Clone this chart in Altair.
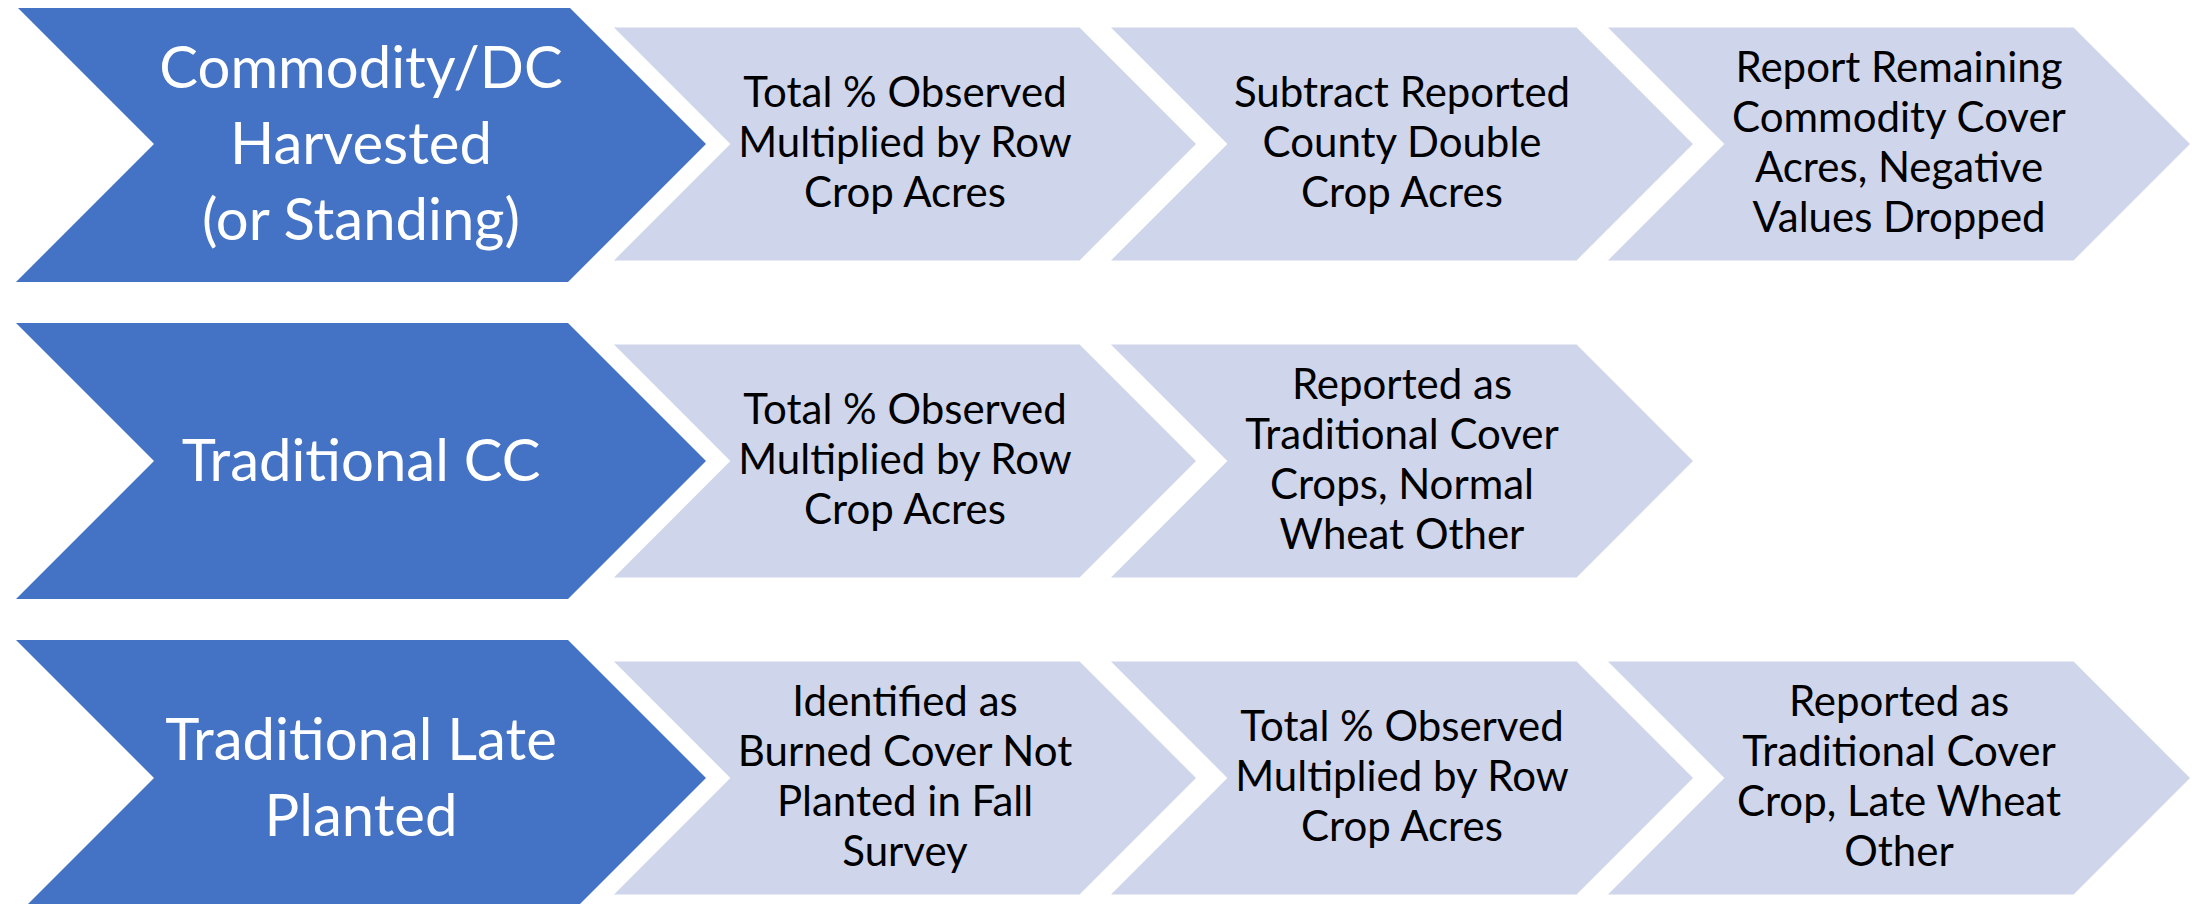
import altair as alt
import pandas as pd

# ---- content -------------------------------------------------------------
row_titles = [
    "Commodity/DC\nHarvested\n(or Standing)",
    "Traditional CC",
    "Traditional Late\nPlanted",
]
row_steps = [
    [
        "Total % Observed\nMultiplied by Row\nCrop Acres",
        "Subtract Reported\nCounty Double\nCrop  Acres",
        "Report Remaining\nCommodity Cover\nAcres, Negative\nValues Dropped",
    ],
    [
        "Total % Observed\nMultiplied by Row\nCrop Acres",
        "Reported as\nTraditional Cover\nCrops, Normal\nWheat Other",
    ],
    [
        "Identified as\nBurned Cover Not\nPlanted in Fall\nSurvey",
        "Total % Observed\nMultiplied by Row\nCrop Acres",
        "Reported as\nTraditional Cover\nCrop, Late Wheat\nOther",
    ],
]

DARK = "#4472C4"
LIGHT = "#CFD5EA"
FONT = "Lato"
CHEVRON = "M-1,-0.4L0.6,-0.4L1,0L0.6,0.4L-1,0.4L-0.6,0Z"
HEAD_FS, HEAD_LH = 58, 76
STEP_FS, STEP_LH = 42, 50

heads = pd.DataFrame({"row": list(range(len(row_titles))), "label": row_titles})
steps = pd.DataFrame(
    [
        {"row": r, "col": c + 1, "label": lab}
        for r, labs in enumerate(row_steps)
        for c, lab in enumerate(labs)
    ]
)

W, H = 2183, 896
xs = alt.Scale(domain=[8, 8 + W], nice=False, zero=False)
ys = alt.Scale(domain=[8, 8 + H], nice=False, zero=False, reverse=True)

row_y = "144 + 317 * datum.row"
head_x = "361"
step_x = "905 + 497 * (datum.col - 1)"
nlines = "(length(split(datum.label, '\\n')) - 1)"

enc = dict(
    x=alt.X("cx:Q", scale=xs, axis=None),
    y=alt.Y("cy:Q", scale=ys, axis=None),
)

head_shapes = (
    alt.Chart(heads)
    .transform_calculate(cx=head_x, cy=row_y)
    .mark_point(shape=CHEVRON, filled=True, color=DARK, opacity=1, size=690 ** 2, strokeWidth=0)
    .encode(**enc)
)
step_shapes = (
    alt.Chart(steps)
    .transform_calculate(cx=step_x, cy=row_y)
    .mark_point(shape=CHEVRON, filled=True, color=LIGHT, opacity=1, size=582 ** 2, strokeWidth=0)
    .encode(**enc)
)
head_text = (
    alt.Chart(heads)
    .transform_calculate(cx=head_x, cy=f"{row_y} + 3 - {nlines} * {HEAD_LH / 2}")
    .mark_text(
        font=FONT, fontSize=HEAD_FS, lineHeight=HEAD_LH, color="white",
        align="center", baseline="middle", lineBreak="\n",
    )
    .encode(text="label:N", **enc)
)
step_text = (
    alt.Chart(steps)
    .transform_calculate(cx=step_x, cy=f"{row_y} - {nlines} * {STEP_LH / 2}")
    .mark_text(
        font=FONT, fontSize=STEP_FS, lineHeight=STEP_LH, color="black",
        align="center", baseline="middle", lineBreak="\n",
    )
    .encode(text="label:N", **enc)
)

chart = (
    alt.layer(head_shapes, step_shapes, head_text, step_text)
    .properties(width=W, height=H, padding=0, autosize=alt.AutoSizeParams(type="none"))
    .configure_view(stroke=None)
)

chart.save("out.html", embed_options={"renderer": "svg", "actions": False})
